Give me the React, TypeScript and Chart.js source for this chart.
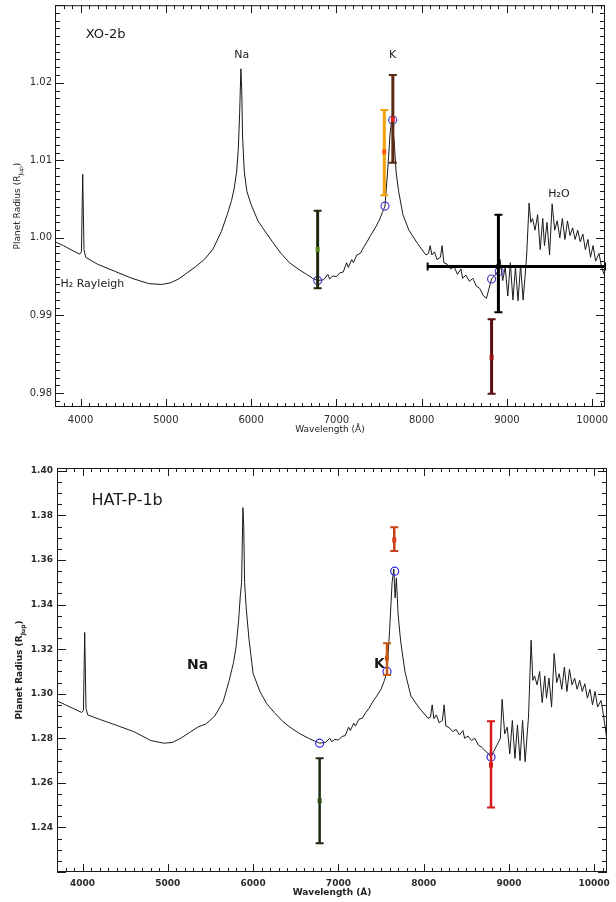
import React, { useEffect, useRef } from "react";
import { Chart, registerables } from "chart.js";
Chart.register(...registerables);

// ---------------- data ----------------
const wavelengths = [
  3700, 3800, 3900, 3990, 4010, 4025, 4040, 4060, 4200, 4400,
  4600, 4800, 4950, 5050, 5150, 5250, 5350, 5450, 5550, 5650,
  5720, 5770, 5800, 5830, 5850, 5865, 5880, 5890, 5900, 5920,
  5950, 6000, 6080, 6160, 6250, 6350, 6450, 6550, 6650, 6720,
  6780, 6850, 6900, 6920, 6960, 7000, 7040, 7080, 7120, 7140,
  7180, 7200, 7240, 7280, 7320, 7360, 7400, 7450, 7500, 7540,
  7570, 7600, 7630, 7650, 7665, 7680, 7700, 7730, 7780, 7850,
  7950, 8050, 8080, 8100, 8120, 8150, 8180, 8220, 8240, 8260,
  8300, 8340, 8380, 8420, 8460, 8480, 8520, 8560, 8600, 8640,
  8680, 8720, 8760, 8790, 8820, 8860, 8900, 8920, 8950, 8980,
  9010, 9040, 9070, 9100, 9130, 9160, 9190, 9230, 9260, 9280,
  9300, 9330, 9360, 9390, 9420, 9440, 9470, 9500, 9530, 9560,
  9590, 9620, 9650, 9680, 9710, 9740, 9770, 9800, 9830, 9860,
  9890, 9920, 9950, 9980, 10010, 10040, 10080, 10110, 10150,
];

const xo2bModel = [
  0.9995, 0.9990, 0.9984, 0.9979, 0.9982, 1.0082, 0.9985, 0.9975, 0.9966, 0.9957,
  0.9948, 0.9941, 0.9940, 0.9942, 0.9947, 0.9955, 0.9963, 0.9972, 0.9985, 1.0008,
  1.0030, 1.0048, 1.0063, 1.0085, 1.0115, 1.0160, 1.0218, 1.0190, 1.0130, 1.0085,
  1.0060, 1.0043, 1.0022, 1.0009, 0.9995, 0.9980, 0.9968, 0.9960, 0.9953, 0.9948,
  0.9945, 0.9946, 0.9953, 0.9947, 0.9951, 0.9950, 0.9955, 0.9956, 0.9968, 0.9962,
  0.9972, 0.9968, 0.9978, 0.9980, 0.9988, 0.9995, 1.0003, 1.0012, 1.0022, 1.0033,
  1.0041, 1.0085, 1.0135, 1.0152, 1.0140, 1.0120, 1.0085, 1.0060, 1.0030, 1.0010,
  0.9993, 0.9978, 0.9980, 0.9990, 0.9978, 0.9982, 0.9972, 0.9975, 0.9990, 0.9968,
  0.9966, 0.9960, 0.9963, 0.9953, 0.9960, 0.9948, 0.9952, 0.9944, 0.9948, 0.9938,
  0.9935, 0.9926, 0.9922, 0.9935, 0.9947, 0.9952, 0.9958, 0.9972, 0.9945, 0.9962,
  0.9925, 0.9968, 0.9920, 0.9962, 0.9919, 0.9965, 0.9920, 0.9975, 1.0045, 1.0020,
  1.0025, 1.0010, 1.0030, 0.9985, 1.0025, 0.9990, 1.0020, 0.9978, 1.0044, 1.0010,
  1.0022, 1.0000, 1.0025, 0.9998, 1.0022, 1.0003, 1.0013, 0.9998, 1.0010, 0.9995,
  1.0005, 0.9985, 0.9998, 0.9975, 0.9990, 0.9970, 0.9980, 0.9962, 0.9950,
];

const hatp1bModel = [
  1.2968, 1.2950, 1.2932, 1.2916, 1.2925, 1.3275, 1.2935, 1.2905, 1.2885, 1.2858,
  1.2830, 1.2790, 1.2778, 1.2781, 1.2800, 1.2825, 1.2850, 1.2865, 1.2900, 1.2966,
  1.3060, 1.3140, 1.3210, 1.3330, 1.3440, 1.3500, 1.3835, 1.3750, 1.3500, 1.3380,
  1.3250, 1.3090, 1.3010, 1.2955, 1.2915, 1.2875, 1.2845, 1.2820, 1.2800, 1.2788,
  1.2778, 1.2782, 1.2800, 1.2785, 1.2795, 1.2792, 1.2808, 1.2812, 1.2850, 1.2835,
  1.2868, 1.2855, 1.2885, 1.2890, 1.2915, 1.2935, 1.2962, 1.2990, 1.3020, 1.3060,
  1.3100, 1.3280, 1.3500, 1.3560, 1.3430, 1.3520, 1.3357, 1.3236, 1.3100, 1.2990,
  1.2935, 1.2890, 1.2895, 1.2950, 1.2888, 1.2905, 1.2870, 1.2880, 1.2950, 1.2855,
  1.2848, 1.2830, 1.2840, 1.2815, 1.2835, 1.2800, 1.2810, 1.2790, 1.2800, 1.2770,
  1.2760, 1.2745, 1.2730, 1.2716, 1.2740, 1.2770, 1.2800, 1.2975, 1.2820, 1.2850,
  1.2730, 1.2880, 1.2710, 1.2860, 1.2700, 1.2880, 1.2695, 1.2900, 1.3240, 1.3060,
  1.3080, 1.3040, 1.3100, 1.2960, 1.3080, 1.2980, 1.3070, 1.2940, 1.3180, 1.3050,
  1.3090, 1.3020, 1.3120, 1.3010, 1.3110, 1.3040, 1.3070, 1.3020, 1.3060, 1.3010,
  1.3045, 1.2980, 1.3020, 1.2950, 1.3010, 1.2940, 1.2970, 1.2900, 1.2790,
];

const xTickValues = [4000, 5000, 6000, 7000, 8000, 9000, 10000];
const xo2bYTicks = [0.98, 0.99, 1.0, 1.01, 1.02];
const hatp1bYTicks = [1.24, 1.26, 1.28, 1.3, 1.32, 1.34, 1.36, 1.38, 1.4];

// model points binned to the observations (open circles)
const xo2bCircleX = [6780, 7570, 7660, 8820, 8910];
const xo2bCircleY = [0.9945, 1.0041, 1.0152, 0.9947, 0.9957];
const hatp1bCircleX = [6780, 7570, 7660, 8790];
const hatp1bCircleY = [1.2778, 1.31, 1.355, 1.2716];

// observations with error bars
const xo2bObsX = [6780, 7562, 7662, 8820, 8900];
const xo2bObsY = [0.9985, 1.0111, 1.0153, 0.9846, 0.9963];
const xo2bObsLo = [0.9935, 1.0055, 1.0097, 0.9799, 0.9904];
const xo2bObsHi = [1.0035, 1.0165, 1.021, 0.9895, 1.003];
const xo2bObsXLo = [null, null, null, null, 8070];
const xo2bObsXHi = [null, null, null, null, 10150];
const xo2bObsColor = ["#1f2a0c", "#f0a00a", "#5a2a12", "#5a0e0e", "#000000"];
const xo2bObsCenter = ["#5a8a18", "#ff5a00", "#e82020", "#a01212", "#000000"];

const hatp1bObsX = [6780, 7570, 7655, 8790];
const hatp1bObsY = [1.252, 1.316, 1.369, 1.268];
const hatp1bObsLo = [1.2329, 1.3084, 1.364, 1.2489];
const hatp1bObsHi = [1.2711, 1.3227, 1.3747, 1.2876];
const hatp1bObsXLo = [null, null, null, null];
const hatp1bObsXHi = [null, null, null, null];
const hatp1bObsColor = ["#1c2a14", "#c85a18", "#c8401a", "#d41a1a"];
const hatp1bObsCenter = ["#2c4a14", "#c85a18", "#d83a1a", "#d41a1a"];

// ---------------- chart ----------------
const FONT = "'DejaVu Sans', sans-serif";

type Label = { text: string; x: number; y: number; font: string; align: CanvasTextAlign };

type Panel = {
  name: string;
  height: number;
  model: number[];
  yMin: number;
  yMax: number;
  yTicks: number[];
  yMajor: number;
  yMinor: number;
  cx: number[];
  cy: number[];
  circleColor: string;
  obsX: number[];
  obsY: number[];
  obsLo: number[];
  obsHi: number[];
  obsXLo: (number | null)[];
  obsXHi: (number | null)[];
  obsColor: string[];
  obsCenter: string[];
  barWidth: number;
  padTop: number;
  padRight: number;
  yWidth: number;
  xHeight: number;
  tickFont: { family: string; size: number; weight: string };
  tickPadY: number;
  tickPadX: number;
  titleFont: string;
  subFont: string;
  xTitleY: number;
  yTitleX: number;
  labels: Label[];
};

function makePlugin(p: Panel) {
  return {
    id: "deco_" + p.name,
    afterDatasetsDraw(chart: any) {
      const { ctx, scales } = chart;
      const x = scales.x;
      const y = scales.y;
      ctx.save();
      for (let i = 0; i < p.obsX.length; i++) {
        const px = x.getPixelForValue(p.obsX[i]);
        const pc = y.getPixelForValue(p.obsY[i]);
        const pt = y.getPixelForValue(p.obsHi[i]);
        const pb = y.getPixelForValue(p.obsLo[i]);
        ctx.strokeStyle = p.obsColor[i];
        ctx.lineCap = "butt";
        const xl = p.obsXLo[i];
        const xh = p.obsXHi[i];
        if (xl !== null && xh !== null) {
          const a = x.getPixelForValue(xl);
          const b = x.getPixelForValue(xh);
          ctx.lineWidth = p.barWidth;
          ctx.beginPath();
          ctx.moveTo(a, pc);
          ctx.lineTo(b, pc);
          ctx.stroke();
          ctx.lineWidth = 2;
          ctx.beginPath();
          ctx.moveTo(a, pc - 4);
          ctx.lineTo(a, pc + 4);
          ctx.moveTo(b, pc - 4);
          ctx.lineTo(b, pc + 4);
          ctx.stroke();
        }
        ctx.lineWidth = p.barWidth;
        ctx.beginPath();
        ctx.moveTo(px, pt);
        ctx.lineTo(px, pb);
        ctx.stroke();
        ctx.lineWidth = 2;
        ctx.beginPath();
        ctx.moveTo(px - 4, pt);
        ctx.lineTo(px + 4, pt);
        ctx.moveTo(px - 4, pb);
        ctx.lineTo(px + 4, pb);
        ctx.stroke();
        ctx.fillStyle = p.obsCenter[i];
        ctx.fillRect(px - 2, pc - 2.5, 4, 5);
      }
      ctx.restore();
    },
    afterDraw(chart: any) {
      const { ctx, chartArea: a, scales } = chart;
      const x = scales.x;
      const y = scales.y;
      ctx.save();
      ctx.strokeStyle = "#1a1a1a";
      ctx.lineWidth = 1;
      ctx.strokeRect(a.left + 0.5, a.top + 0.5, a.right - a.left - 1, a.bottom - a.top - 1);
      ctx.beginPath();
      const xs = 100;
      for (let k = Math.ceil(x.min / xs - 1e-9); k * xs <= x.max + 1e-9; k++) {
        const v = k * xs;
        const major = k % 10 === 0;
        const len = major ? 8 : 4;
        const px = Math.round(x.getPixelForValue(v)) + 0.5;
        ctx.moveTo(px, a.bottom);
        ctx.lineTo(px, a.bottom - len);
        ctx.moveTo(px, a.top);
        ctx.lineTo(px, a.top + len);
      }
      const ratio = Math.round(p.yMajor / p.yMinor);
      for (let k = Math.ceil(y.min / p.yMinor - 1e-6); k * p.yMinor <= y.max + 1e-9; k++) {
        const v = k * p.yMinor;
        const major = k % ratio === 0;
        const len = major ? 9 : 5;
        const py = Math.round(y.getPixelForValue(v)) + 0.5;
        ctx.moveTo(a.left, py);
        ctx.lineTo(a.left + len, py);
        ctx.moveTo(a.right, py);
        ctx.lineTo(a.right - len, py);
      }
      ctx.stroke();

      // axis titles
      ctx.fillStyle = "#222";
      ctx.font = p.titleFont;
      ctx.textAlign = "center";
      ctx.textBaseline = "middle";
      ctx.fillText("Wavelength (Å)", (a.left + a.right) / 2, p.xTitleY);

      ctx.save();
      ctx.translate(p.yTitleX, (a.top + a.bottom) / 2);
      ctx.rotate(-Math.PI / 2);
      const s1 = "Planet Radius (R";
      const s2 = "Jup";
      const s3 = ")";
      ctx.font = p.titleFont;
      const w1 = ctx.measureText(s1).width;
      const w3 = ctx.measureText(s3).width;
      ctx.font = p.subFont;
      const w2 = ctx.measureText(s2).width;
      const x0 = -(w1 + w2 + w3) / 2;
      ctx.textAlign = "left";
      ctx.font = p.titleFont;
      ctx.fillText(s1, x0, 0);
      ctx.font = p.subFont;
      ctx.fillText(s2, x0 + w1, 3);
      ctx.font = p.titleFont;
      ctx.fillText(s3, x0 + w1 + w2, 0);
      ctx.restore();

      // annotations
      for (const l of p.labels) {
        ctx.font = l.font;
        ctx.textAlign = l.align;
        ctx.textBaseline = "middle";
        ctx.fillStyle = "#1a1a1a";
        ctx.fillText(l.text, x.getPixelForValue(l.x), y.getPixelForValue(l.y));
      }
      ctx.restore();
    },
  };
}

function makeConfig(p: Panel): any {
  const zeroPad = (s: any) => {
    s.paddingTop = 0;
    s.paddingBottom = 0;
    s.paddingLeft = 0;
    s.paddingRight = 0;
  };
  return {
    type: "scatter",
    data: {
      datasets: [
        {
          data: p.cx.map((v, i) => ({ x: v, y: p.cy[i] })),
          showLine: false,
          pointRadius: 4,
          pointBorderWidth: 1.2,
          pointBorderColor: p.circleColor,
          pointBackgroundColor: "rgba(0,0,0,0)",
          order: 0,
        },
        {
          data: wavelengths.map((w, i) => ({ x: w, y: p.model[i] })),
          showLine: true,
          borderColor: "#1a1a1a",
          borderWidth: 1,
          pointRadius: 0,
          tension: 0,
          order: 1,
        },
      ],
    },
    options: {
      responsive: false,
      animation: false,
      devicePixelRatio: 1,
      layout: { padding: { left: 0, right: p.padRight, top: p.padTop, bottom: 0 } },
      plugins: { legend: { display: false }, tooltip: { enabled: false } },
      scales: {
        x: {
          type: "linear",
          min: 3700,
          max: 10150,
          grid: { display: false, drawTicks: false },
          border: { display: false },
          ticks: {
            font: p.tickFont,
            color: "#2a2a2a",
            padding: p.tickPadX,
            maxRotation: 0,
            autoSkip: false,
            callback: (v: number) => String(v),
          },
          afterBuildTicks: (s: any) => {
            s.ticks = xTickValues.map((v) => ({ value: v }));
          },
          afterFit: (s: any) => {
            s.height = p.xHeight;
            zeroPad(s);
          },
        },
        y: {
          type: "linear",
          min: p.yMin,
          max: p.yMax,
          grid: { display: false, drawTicks: false },
          border: { display: false },
          ticks: {
            font: p.tickFont,
            color: "#2a2a2a",
            padding: p.tickPadY,
            autoSkip: false,
            callback: (v: number) => Number(v).toFixed(2),
          },
          afterBuildTicks: (s: any) => {
            s.ticks = p.yTicks.map((v) => ({ value: v }));
          },
          afterFit: (s: any) => {
            s.width = p.yWidth;
            zeroPad(s);
          },
        },
      },
    },
    plugins: [makePlugin(p)],
  };
}

const topPanel: Panel = {
  name: "xo2b",
  height: 440,
  model: xo2bModel,
  yMin: 0.9782,
  yMax: 1.03,
  yTicks: xo2bYTicks,
  yMajor: 0.01,
  yMinor: 0.001,
  cx: xo2bCircleX,
  cy: xo2bCircleY,
  circleColor: "#4a3ec8",
  obsX: xo2bObsX,
  obsY: xo2bObsY,
  obsLo: xo2bObsLo,
  obsHi: xo2bObsHi,
  obsXLo: xo2bObsXLo,
  obsXHi: xo2bObsXHi,
  obsColor: xo2bObsColor,
  obsCenter: xo2bObsCenter,
  barWidth: 3,
  padTop: 3,
  padRight: 11,
  yWidth: 55,
  xHeight: 33,
  tickFont: { family: FONT, size: 10, weight: "normal" },
  tickPadY: 3,
  tickPadX: 7,
  titleFont: `9px ${FONT}`,
  subFont: `6px ${FONT}`,
  xTitleY: 430,
  yTitleX: 18,
  labels: [
    { text: "XO-2b", x: 4060, y: 1.0262, font: `13px ${FONT}`, align: "left" },
    { text: "Na", x: 5890, y: 1.0235, font: `11px ${FONT}`, align: "center" },
    { text: "K", x: 7660, y: 1.0235, font: `11px ${FONT}`, align: "center" },
    { text: "H₂O", x: 9610, y: 1.0056, font: `11px ${FONT}`, align: "center" },
    { text: "H₂ Rayleigh", x: 3765, y: 0.994, font: `11px ${FONT}`, align: "left" },
  ],
};

const bottomPanel: Panel = {
  name: "hatp1b",
  height: 462,
  model: hatp1bModel,
  yMin: 1.22,
  yMax: 1.4013,
  yTicks: hatp1bYTicks,
  yMajor: 0.02,
  yMinor: 0.005,
  cx: hatp1bCircleX,
  cy: hatp1bCircleY,
  circleColor: "#2a2ae0",
  obsX: hatp1bObsX,
  obsY: hatp1bObsY,
  obsLo: hatp1bObsLo,
  obsHi: hatp1bObsHi,
  obsXLo: hatp1bObsXLo,
  obsXHi: hatp1bObsXHi,
  obsColor: hatp1bObsColor,
  obsCenter: hatp1bObsCenter,
  barWidth: 2.5,
  padTop: 28,
  padRight: 9,
  yWidth: 57,
  xHeight: 30,
  tickFont: { family: FONT, size: 9, weight: "bold" },
  tickPadY: 4,
  tickPadX: 6,
  titleFont: `bold 9px ${FONT}`,
  subFont: `bold 6px ${FONT}`,
  xTitleY: 453,
  yTitleX: 20,
  labels: [
    { text: "HAT-P-1b", x: 4105, y: 1.3865, font: `16px ${FONT}`, align: "left" },
    { text: "Na", x: 5350, y: 1.3128, font: `bold 14px ${FONT}`, align: "center" },
    { text: "K", x: 7480, y: 1.3133, font: `bold 14px ${FONT}`, align: "center" },
  ],
};

function SpectrumChart({ panel }: { panel: Panel }) {
  const ref = useRef<HTMLCanvasElement>(null);
  useEffect(() => {
    const chart = new Chart(ref.current as HTMLCanvasElement, makeConfig(panel));
    return () => chart.destroy();
  }, [panel]);
  return (
    <canvas
      ref={ref}
      width={616}
      height={panel.height}
      style={{ display: "block", width: 616, height: panel.height }}
    />
  );
}

export default function App() {
  return (
    <div
      style={{
        position: "absolute",
        left: 0,
        top: 0,
        width: 616,
        height: 902,
        background: "#ffffff",
      }}
    >
      <SpectrumChart panel={topPanel} />
      <SpectrumChart panel={bottomPanel} />
    </div>
  );
}
